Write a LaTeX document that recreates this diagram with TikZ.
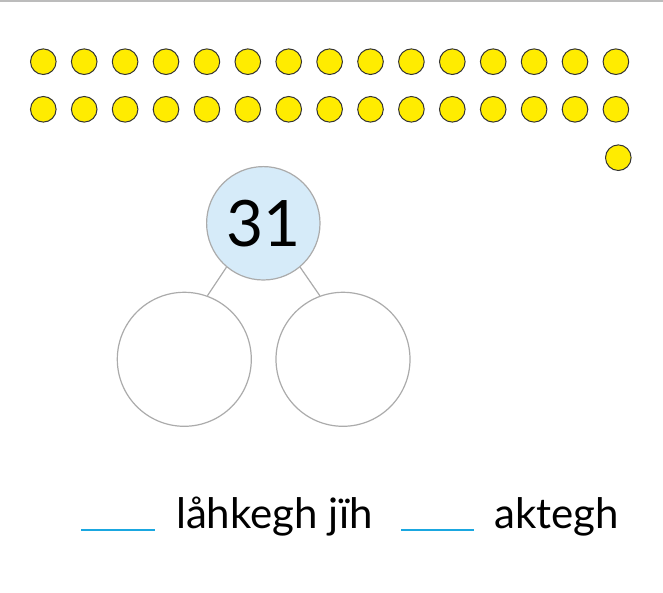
\documentclass[tikz,border=0pt]{standalone}
\usepackage{fontspec}
\setmainfont{Lato}
\usetikzlibrary{positioning}
\definecolor{dotyellow}{HTML}{FFEC00}
\definecolor{bondblue}{HTML}{D6EBF9}
\definecolor{bondgray}{HTML}{ABABAB}
\definecolor{blankblue}{HTML}{1AA7E0}
\begin{document}
\begin{tikzpicture}[x=1pt,y=1pt,
    dot/.style={circle,draw=black!80,fill=dotyellow,line width=1pt,minimum size=25.6pt,inner sep=0pt},
    whole/.style={circle,draw=bondgray,fill=bondblue,line width=1.2pt,minimum size=113.4pt,inner sep=0pt,font=\fontsize{64}{66}\selectfont},
    part/.style={circle,draw=bondgray,fill=white,line width=1.2pt,minimum size=134pt,inner sep=0pt},
    word/.style={inner sep=0pt,anchor=base west,font=\fontsize{42}{46}\selectfont}]
    \useasboundingbox (0,0) rectangle (663,592);
    \draw[bondgray!80,line width=2pt] (0,591) -- (663,591);
    % dots
    \foreach \i in {1,...,15} {
        \node[dot] (a\i) at ({43.3+40.9*(\i-1)},530.3) {};
        \node[dot] (b\i) at ({43.3+40.9*(\i-1)},482.7) {};
    }
    \node[dot] (c1) at (618.3,434.3) {};
    % number bond
    \node[whole] (top) at (263.3,368.7) {31};
    \node[part]  (left) at (184.3,232.7) {};
    \node[part]  (right) at (343,232.7) {};
    \draw[bondgray,line width=1.2pt] (top.230) -- (left.70);
    \draw[bondgray,line width=1.2pt] (top.310) -- (right.110);
    % sentence
    \draw[blankblue,line width=2pt] (81,62) -- (155,62);
    \node[word] (w1) at (176,64) {låhkegh jïh};
    \draw[blankblue,line width=2pt] (401,62) -- (474,62);
    \node[word] (w2) at (494,64) {aktegh};
\end{tikzpicture}
\end{document}
